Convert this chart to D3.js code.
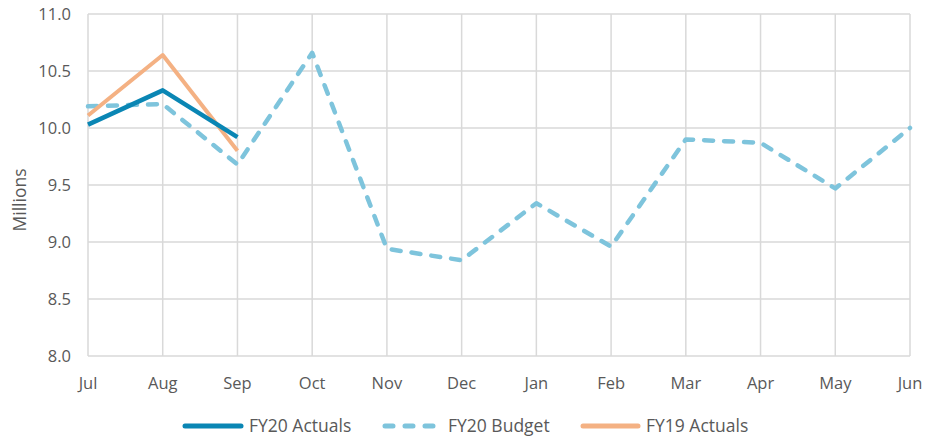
<!DOCTYPE html>
<html>
<head>
<meta charset="utf-8">
<script src="https://cdn.jsdelivr.net/npm/d3@7"></script>
<style>
  body { margin: 0; background: #fff; }
  svg { display: block; font-family: "Open Sans", sans-serif; }
</style>
</head>
<body>
<svg></svg>
<script>
const width = 925;
const height = 440;
const svg = d3.select("svg").attr("width", width).attr("height", height);

const months = ["Jul", "Aug", "Sep", "Oct", "Nov", "Dec", "Jan", "Feb", "Mar", "Apr", "May", "Jun"];
const fy20Actuals = [10.03, 10.33, 9.92];
const fy20Budget = [10.19, 10.21, 9.68, 10.66, 8.94, 8.84, 9.34, 8.96, 9.90, 9.87, 9.47, 10.0];
const fy19Actuals = [10.11, 10.64, 9.80];
const yTicks = [8.0, 8.5, 9.0, 9.5, 10.0, 10.5, 11.0];

const margin = { top: 14, right: 15, bottom: 84, left: 88 };

const x = d3
  .scalePoint()
  .domain(months)
  .range([margin.left, width - margin.right]);

const y = d3
  .scaleLinear()
  .domain([8, 11])
  .range([height - margin.bottom, margin.top]);

const gridColor = "#d9d9d9";
const textColor = "#595959";

// grid
const grid = svg.append("g");
grid
  .selectAll("line.h")
  .data(yTicks)
  .enter()
  .append("line")
  .attr("x1", margin.left)
  .attr("x2", width - margin.right)
  .attr("y1", (d) => y(d))
  .attr("y2", (d) => y(d))
  .attr("stroke", gridColor)
  .attr("stroke-width", 1.5);

grid
  .selectAll("line.v")
  .data(months)
  .enter()
  .append("line")
  .attr("x1", (d) => x(d))
  .attr("x2", (d) => x(d))
  .attr("y1", y(11))
  .attr("y2", y(8))
  .attr("stroke", gridColor)
  .attr("stroke-width", 1.5);

// y axis labels
svg
  .append("g")
  .selectAll("text")
  .data(yTicks)
  .enter()
  .append("text")
  .attr("x", margin.left - 17)
  .attr("y", (d) => y(d))
  .attr("dy", "0.36em")
  .attr("text-anchor", "end")
  .attr("font-size", "16.5px")
  .attr("fill", textColor)
  .text((d) => d3.format(".1f")(d));

// x axis labels
svg
  .append("g")
  .selectAll("text")
  .data(months)
  .enter()
  .append("text")
  .attr("x", (d) => x(d))
  .attr("y", y(8) + 33)
  .attr("text-anchor", "middle")
  .attr("font-size", "16.5px")
  .attr("fill", textColor)
  .text((d) => d);

svg
  .append("text")
  .attr("transform", "translate(20,200) rotate(-90)")
  .attr("text-anchor", "middle")
  .attr("dy", "0.35em")
  .attr("font-size", "17.5px")
  .attr("fill", textColor)
  .text("Millions");

const line = d3
  .line()
  .x((d, i) => x(months[i]))
  .y((d) => y(d));

const series = [
  { name: "FY20 Budget", values: fy20Budget, color: "#7ec4dc", width: 4.5, dash: "9,11" },
  { name: "FY19 Actuals", values: fy19Actuals, color: "#f4b183", width: 4, dash: null },
  { name: "FY20 Actuals", values: fy20Actuals, color: "#0a86b4", width: 4.5, dash: null },
];

svg
  .append("g")
  .selectAll("path")
  .data(series)
  .enter()
  .append("path")
  .attr("d", (d) => line(d.values))
  .attr("fill", "none")
  .attr("stroke", (d) => d.color)
  .attr("stroke-width", (d) => d.width)
  .attr("stroke-dasharray", (d) => d.dash)
  .attr("stroke-linecap", (d) => (d.dash ? "round" : "butt"))
  .attr("stroke-linejoin", "round");

// legend
const legendItems = [
  { name: "FY20 Actuals", color: "#0a86b4", dash: null, x: 185, len: 56, tx: 64 },
  { name: "FY20 Budget", color: "#7ec4dc", dash: "8,12", x: 385, len: 48, tx: 63 },
  { name: "FY19 Actuals", color: "#f4b183", dash: null, x: 583, len: 55, tx: 63 },
];
const legendY = 426;

const legend = svg
  .append("g")
  .selectAll("g")
  .data(legendItems)
  .enter()
  .append("g")
  .attr("transform", (d) => `translate(${d.x},${legendY})`);

legend
  .append("line")
  .attr("x1", 0)
  .attr("x2", (d) => d.len)
  .attr("stroke", (d) => d.color)
  .attr("stroke-width", 5)
  .attr("stroke-linecap", "round")
  .attr("stroke-dasharray", (d) => d.dash);

legend
  .append("text")
  .attr("x", (d) => d.tx)
  .attr("dy", "0.36em")
  .attr("font-size", "17.5px")
  .attr("fill", textColor)
  .text((d) => d.name);
</script>
</body>
</html>
